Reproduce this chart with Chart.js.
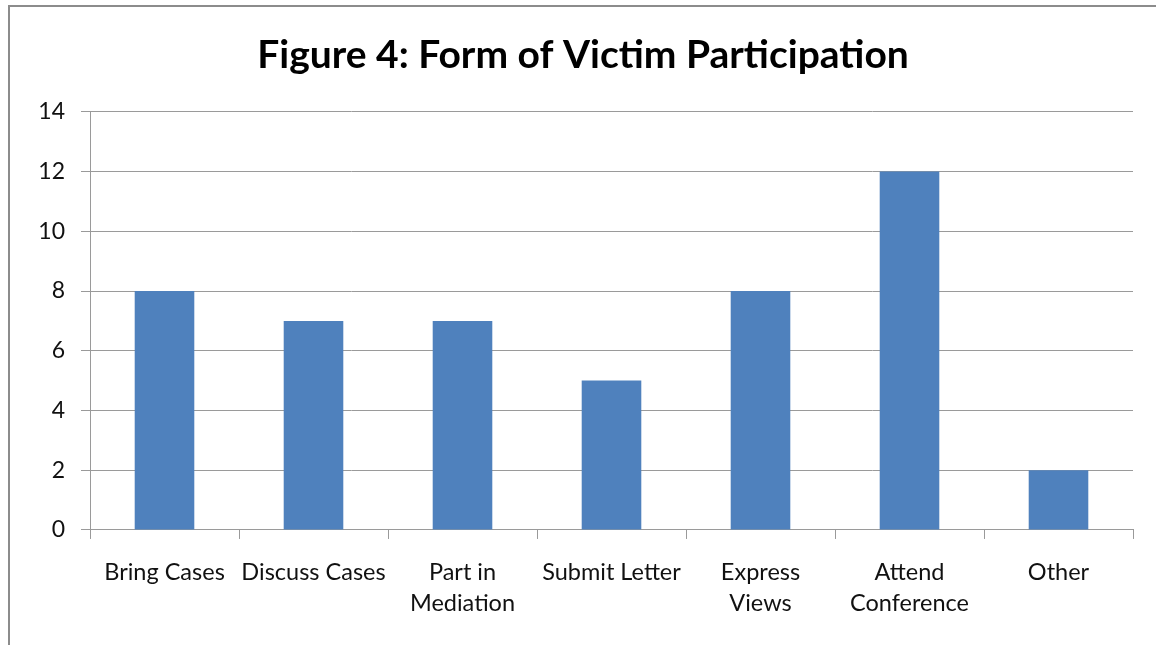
<!DOCTYPE html>
<html><head><meta charset="utf-8">
<script src="https://cdn.jsdelivr.net/npm/chart.js@4/dist/chart.umd.min.js"></script>
<style>
html,body{margin:0;padding:0;background:#fff;overflow:hidden;width:1156px;height:645px;}
#frame{position:absolute;left:8px;top:5px;width:1160px;height:660px;border-left:2px solid #8c8c8c;border-top:2px solid #8c8c8c;}
#wrap{position:absolute;left:0;top:0;width:1146px;height:638px;}
</style></head>
<body>
<div id="frame"><div id="wrap"><canvas id="c"></canvas></div></div>
<script>
const titleText = "Figure 4: Form of Victim Participation";
const categories = [["Bring Cases"],["Discuss Cases"],["Part in","Mediation"],["Submit Letter"],["Express","Views"],["Attend","Conference"],["Other"]];
const values = [8,7,7,5,8,12,2];
const yTicks = [0,2,4,6,8,10,12,14];

const FONT = "Lato, 'Open Sans', sans-serif";
new Chart(document.getElementById('c'), {
  type: 'bar',
  data: {
    labels: categories,
    datasets: [{data: values, backgroundColor: '#4F81BD', borderWidth: 0, categoryPercentage: 1, barPercentage: 0.4}]
  },
  options: {
    responsive: true, maintainAspectRatio: false, animation: false,
    layout: {padding: {left: 23, right: 23, top: 20, bottom: 8}},
    plugins: {
      legend: {display: false}, tooltip: {enabled: false},
      title: {display: true, text: titleText, color: '#000', font: {family: FONT, size: 39, weight: 'bold', lineHeight: 1.2}, padding: {top: 5, bottom: 33}}
    },
    scales: {
      x: {
        grid: {drawOnChartArea: false, offset: true, tickLength: 9, color: '#9a9a9a'},
        border: {color: '#9a9a9a'},
        ticks: {color: '#111', font: {family: FONT, size: 23.5, lineHeight: 1.32}, padding: 18, maxRotation: 0, autoSkip: false}
      },
      y: {
        min: 0, max: 14,
        afterBuildTicks: s => { s.ticks = yTicks.map(v => ({value: v})); },
        afterFit: s => { s.width = 57; },
        grid: {color: '#9a9a9a', tickLength: 9},
        border: {color: '#9a9a9a'},
        ticks: {color: '#111', font: {family: FONT, size: 23}, padding: 16}
      }
    }
  }
});
</script>
</body></html>
